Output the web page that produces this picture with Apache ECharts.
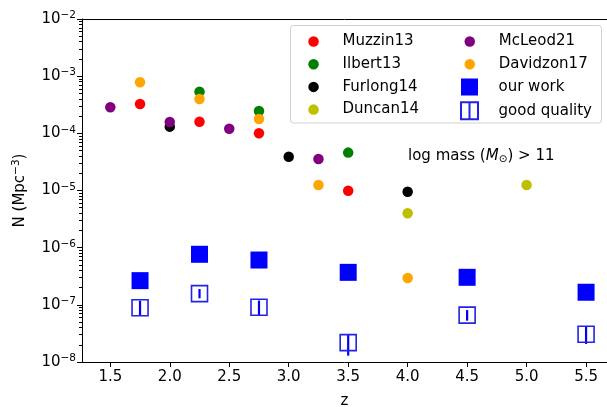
<!DOCTYPE html>
<html>
<head>
<meta charset="utf-8">
<script src="https://cdn.jsdelivr.net/npm/echarts@6/dist/echarts.min.js"></script>
<style>html,body{margin:0;padding:0;background:#fff}#c{width:607px;height:407px}</style>
</head>
<body>
<div id="c"></div>
<script>
// ---- data ----
const xTicks = [1.5, 2.0, 2.5, 3.0, 3.5, 4.0, 4.5, 5.0, 5.5];
const muzzin13 = [[1.75, 3.26e-4], [2.25, 1.6e-4], [2.75, 1.0e-4], [3.5, 9.9e-6]];
const ilbert13 = [[2.25, 5.36e-4], [2.75, 2.46e-4], [3.5, 4.6e-5]];
const furlong14 = [[2.0, 1.31e-4], [3.0, 3.9e-5], [4.0, 9.5e-6]];
const duncan14 = [[4.0, 4.0e-6], [5.0, 1.25e-5]];
const mcleod21 = [[1.5, 2.85e-4], [2.0, 1.58e-4], [2.5, 1.2e-4], [3.25, 3.56e-5]];
const davidzon17 = [[1.75, 7.8e-4], [2.25, 3.99e-4], [2.75, 1.78e-4], [3.25, 1.25e-5], [4.0, 2.95e-7]];
const ourZ = [1.75, 2.25, 2.75, 3.5, 4.5, 5.5];
const ourWork = [2.65e-7, 7.66e-7, 6.08e-7, 3.7e-7, 3.03e-7, 1.66e-7];
const goodQuality = [8.9e-8, 1.57e-7, 9.06e-8, 2.18e-8, 6.6e-8, 3.05e-8];
const goodLow = [6.65e-8, 1.30e-7, 6.6e-8, 1.29e-8, 5.28e-8, 2.07e-8];
const goodHigh = [1.18e-7, 1.89e-7, 1.19e-7, 3.09e-8, 8.1e-8, 4.15e-8];

const FONT = 'DejaVu Sans';
const FS = 15;
const minorTicks = [];
for (let e = -8; e < -2; e++) for (let m = 2; m <= 9; m++) minorTicks.push(m * Math.pow(10, e));

const chart = echarts.init(document.getElementById('c'), null, {renderer: 'canvas'});
const circ = (name, data, color) => ({
  name, type: 'scatter', data, symbol: 'circle', symbolSize: 10.5,
  itemStyle: {color, opacity: 1}, xAxisIndex: 0, yAxisIndex: 0
});
const richSup = {
  a: {fontFamily: FONT, fontSize: FS, lineHeight: 18, color: '#000'},
  b: {fontFamily: FONT, fontSize: 10.5, lineHeight: 11, verticalAlign: 'top', color: '#000'}
};
const legendText = {fontFamily: FONT, fontSize: FS, color: '#000'};
const option = {
  animation: false,
  backgroundColor: '#fff',
  textStyle: {fontFamily: FONT},
  grid: {left: 82, right: 0, top: 19, bottom: 45, containLabel: false, outerBoundsMode: 'none'},
  xAxis: [{
    type: 'value', min: 1.262, max: 5.676, position: 'bottom',
    name: 'z', nameLocation: 'middle', nameGap: 32,
    nameTextStyle: {fontFamily: FONT, fontSize: FS, color: '#000'},
    axisLine: {show: true, lineStyle: {color: '#000', width: 1}},
    axisTick: {show: true, length: 5, inside: false, customValues: xTicks, lineStyle: {color: '#000'}},
    axisLabel: {show: true, customValues: xTicks, margin: 8, fontFamily: FONT, fontSize: FS, color: '#000',
      formatter: v => Number(v).toFixed(1)},
    splitLine: {show: false}
  }, {
    type: 'value', min: 1.262, max: 5.676, position: 'top',
    axisLine: {show: true, onZero: false, lineStyle: {color: '#000', width: 1}},
    axisTick: {show: false}, axisLabel: {show: false}, splitLine: {show: false}
  }],
  yAxis: [{
    type: 'log', logBase: 10, min: 1e-8, max: 1e-2, interval: 1, position: 'left',
    name: '{a|N (Mpc}{b|−3}{a|)}', nameLocation: 'middle', nameRotate: 90, nameGap: 53,
    nameTextStyle: {rich: richSup},
    axisLine: {show: true, onZero: false, lineStyle: {color: '#000', width: 1}},
    axisTick: {show: true, length: 5, lineStyle: {color: '#000'}},
    minorTick: {show: false},
    axisLabel: {show: true, margin: 6, rich: richSup,
      formatter: v => '{a|10}{b|−' + Math.abs(Math.round(Math.log10(v))) + '}'},
    splitLine: {show: false}
  }, {
    type: 'log', logBase: 10, min: 1e-8, max: 1e-2, position: 'left',
    axisLine: {show: false},
    axisTick: {show: true, length: 3, customValues: minorTicks, lineStyle: {color: '#000'}},
    axisLabel: {show: false}, splitLine: {show: false}
  }],
  legend: [{
    data: ['Muzzin13', 'Ilbert13', 'Furlong14', 'Duncan14'],
    orient: 'vertical', left: 308.3, top: 34, padding: 0, itemWidth: 48, itemHeight: 10.5, itemGap: 7.7,
    textStyle: legendText, z: 5
  }, {
    data: ['McLeod21', 'Davidzon17'],
    orient: 'vertical', left: 464.5, top: 34, padding: 0, itemWidth: 48, itemHeight: 10.5, itemGap: 7.7,
    textStyle: legendText, z: 5
  }, {
    data: [
      {name: 'our work', icon: 'path://M0,0H10V10H0Z'},
      {name: 'good quality', icon: 'path://M0,0H10V10H0ZM5,0V10'}
    ],
    orient: 'vertical', left: 460, top: 78.5, padding: 0, itemWidth: 48, itemHeight: 17, itemGap: 5.7,
    textStyle: legendText, z: 5
  }],
  graphic: [{
    type: 'rect', z: 4, shape: {x: 290.5, y: 25.5, width: 311, height: 97.5, r: 3},
    style: {fill: 'rgba(255,255,255,0.8)', stroke: '#d0d0d0', lineWidth: 1}
  }, {
    type: 'text', z: 5, x: 408, y: 156,
    style: {
      text: '{n|log mass (}{i|M}{s|⊙}{n|) > 11}',
      verticalAlign: 'middle', align: 'left',
      rich: {
        n: {fontFamily: FONT, fontSize: FS, lineHeight: 18, fill: '#000', color: '#000'},
        i: {fontFamily: FONT, fontSize: FS, lineHeight: 18, fontStyle: 'italic', fill: '#000', color: '#000'},
        s: {fontFamily: FONT, fontSize: 10.5, lineHeight: 11, verticalAlign: 'bottom', fill: '#000', color: '#000'}
      }
    }
  }],
  series: [
    circ('Muzzin13', muzzin13, '#ff0000'),
    circ('Ilbert13', ilbert13, '#008000'),
    circ('Furlong14', furlong14, '#000000'),
    circ('Duncan14', duncan14, '#bfbf00'),
    circ('McLeod21', mcleod21, '#800080'),
    circ('Davidzon17', davidzon17, '#ffa500'),
    {
      name: 'our work', type: 'scatter', symbol: 'rect', symbolSize: 17,
      data: ourZ.map((z, i) => [z, ourWork[i]]),
      itemStyle: {color: '#0000ff', opacity: 1}
    },
    {
      name: 'good quality errbar', type: 'custom',
      data: ourZ.map((z, i) => [z, goodLow[i], goodHigh[i]]),
      encode: {x: 0, y: [1, 2]},
      renderItem: (params, api) => {
        const p1 = api.coord([api.value(0), api.value(1)]);
        const p2 = api.coord([api.value(0), api.value(2)]);
        return {type: 'line', shape: {x1: p1[0], y1: p1[1], x2: p2[0], y2: p2[1]},
          style: {stroke: '#0000ff', lineWidth: 2.2}};
      },
      z: 3
    },
    {
      name: 'good quality', type: 'scatter', symbol: 'rect', symbolSize: 16,
      data: ourZ.map((z, i) => [z, goodQuality[i]]),
      itemStyle: {color: 'rgba(0,0,0,0)', borderColor: '#2323e8', borderWidth: 1.6, opacity: 1},
      z: 4
    }
  ]
};
chart.setOption(option);
</script>
</body>
</html>
